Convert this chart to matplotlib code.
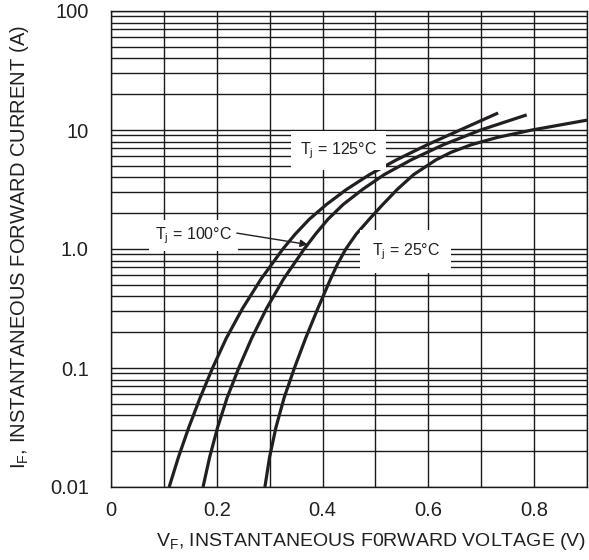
import matplotlib
matplotlib.use("Agg")
import matplotlib.pyplot as plt
from matplotlib.ticker import FixedLocator, NullFormatter, LogLocator

plt.rcParams['font.family'] = ['Liberation Sans', 'DejaVu Sans']

# Data (forward current A, forward voltage V)
i_125 = [0.01, 0.0178, 0.0316, 0.0562, 0.1, 0.178, 0.316, 0.562, 1.0, 1.33, 1.78, 2.37,
         3.16, 4.22, 5.62, 7.5, 10.0, 13.9]
v_125 = [0.110, 0.1275, 0.147, 0.1685, 0.192, 0.218, 0.2486, 0.284, 0.325, 0.3481, 0.375,
         0.4075, 0.445, 0.4888, 0.540, 0.5975, 0.660, 0.732]

i_100 = [0.01, 0.0178, 0.0316, 0.0562, 0.1, 0.178, 0.316, 0.562, 1.0, 1.33, 1.78, 2.37,
         3.16, 4.22, 5.62, 7.5, 10.0, 13.4]
v_100 = [0.174, 0.1865, 0.2015, 0.2195, 0.2415, 0.266, 0.294, 0.3265, 0.3653, 0.3865, 0.4103,
         0.4391, 0.4753, 0.5166, 0.5678, 0.6278, 0.699, 0.786]

i_25 = [0.01, 0.0178, 0.0316, 0.0562, 0.1, 0.178, 0.316, 0.562, 0.75, 1.0, 1.33, 1.78, 2.37,
        3.16, 4.22, 5.62, 6.49, 7.5, 8.66, 10.0, 12.1]
v_25 = [0.291, 0.2998, 0.3118, 0.3273, 0.3468, 0.368, 0.391, 0.4153, 0.4284, 0.444, 0.4634,
        0.4884, 0.514, 0.541, 0.5722, 0.6147, 0.6428, 0.6803, 0.7303, 0.796, 0.900]

x_ticks = [0, 0.2, 0.4, 0.6, 0.8]
x_ticklabels = ["0", "0.2", "0.4", "0.6", "0.8"]
y_ticks = [0.01, 0.1, 1.0, 10, 100]
y_ticklabels = ["0.01", "0.1", "1.0", "10", "100"]

ink = '#231f20'

fig = plt.figure(figsize=(5.89, 5.60), dpi=100)
ax = fig.add_axes([111/589, 1-487/560, (587-111)/589, (487-11)/560])
ax.set_yscale('log')
ax.set_xlim(0, 0.9)
ax.set_ylim(0.01, 100)

# grid
ax.xaxis.set_major_locator(FixedLocator(x_ticks))
ax.xaxis.set_minor_locator(FixedLocator([0.1, 0.3, 0.5, 0.7, 0.9]))
ax.yaxis.set_major_locator(FixedLocator(y_ticks))
ax.yaxis.set_minor_locator(LogLocator(base=10, subs=range(2, 10), numticks=20))
ax.yaxis.set_minor_formatter(NullFormatter())
ax.set_xticklabels(x_ticklabels)
ax.set_yticklabels(y_ticklabels)
ax.grid(True, which='both', color='#1a1a1a', linewidth=1.0)
ax.set_axisbelow(True)
ax.tick_params(which='both', length=0, labelsize=14.5, colors=ink)
ax.tick_params(axis='y', pad=16)
ax.tick_params(axis='x', pad=10)
for s in ax.spines.values():
    s.set_color('#1a1a1a')
    s.set_linewidth(1.0)

lw = 2.3
for vv, ii in ((v_125, i_125), (v_100, i_100), (v_25, i_25)):
    ax.plot(vv, ii, color=ink, lw=lw, solid_capstyle='butt', solid_joinstyle='round', zorder=3)

fs = 11.5
ax.text(0.430, 6.28, r'T$_\mathregular{j}$ = 125°C', fontsize=fs, ha='center', va='baseline',
        bbox=dict(facecolor='white', edgecolor='none', boxstyle='square,pad=0.55'), zorder=4, color=ink)
ax.text(0.557, 0.89, r'T$_\mathregular{j}$ = 25°C', fontsize=fs, ha='center', va='baseline',
        bbox=dict(facecolor='white', edgecolor='none', boxstyle='square,pad=0.7'), zorder=4, color=ink)
ax.text(0.156, 1.21, r'T$_\mathregular{j}$ = 100°C', fontsize=fs, ha='center', va='baseline',
        bbox=dict(facecolor='white', edgecolor='none', boxstyle='square,pad=0.35'), zorder=4, color=ink)
ax.annotate('', xy=(0.372, 1.09), xytext=(0.238, 1.36),
            arrowprops=dict(arrowstyle='-|>', color=ink, lw=1.0, mutation_scale=11,
                            shrinkA=0, shrinkB=0),
            zorder=4)

ax.set_xlabel(r'V$_\mathregular{F}$, INSTANTANEOUS F0RWARD VOLTAGE (V)', fontsize=14, color=ink)
ax.xaxis.set_label_coords((371-111)/476, -(542-487)/476)
ax.xaxis.label.set_va('center')
ax.set_ylabel(r'I$_\mathregular{F}$, INSTANTANEOUS FORWARD CURRENT (A)', fontsize=14.5, color=ink)
ax.yaxis.set_label_coords(-(111-20)/476, (487-247)/476)
ax.yaxis.label.set_va('center')

fig.savefig('out.png', dpi=100, facecolor='white')
